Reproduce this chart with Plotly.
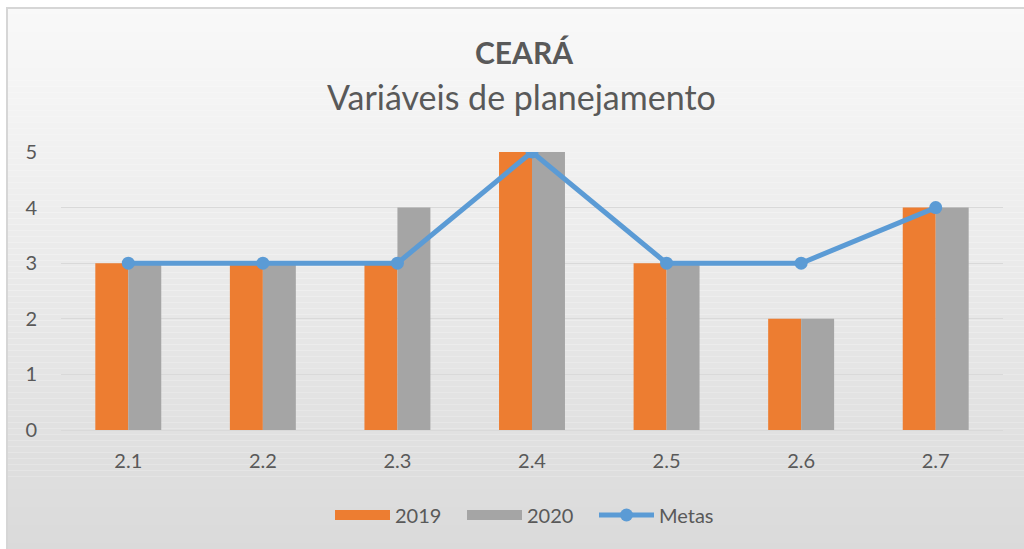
import plotly.graph_objects as go

categories = ["2.1", "2.2", "2.3", "2.4", "2.5", "2.6", "2.7"]
values_2019 = [3, 3, 3, 5, 3, 2, 4]
values_2020 = [3, 3, 4, 5, 3, 2, 4]
metas = [3, 3, 3, 5, 3, 3, 4]
y_ticks = [0, 1, 2, 3, 4, 5]

W, H = 1024, 549
L, R, T, B = 61, 21, 152, 119
pw, ph = W - L - R, H - T - B

def px_x(x):
    return (x - L) / pw

def px_y(y):
    return (H - B - y) / ph

FONT = "Lato"
TXT = "#595959"
ORANGE = "#ED7D31"
GRAY = "#A5A5A5"
BLUE = "#5B9BD5"

fig = go.Figure()
fig.add_trace(go.Bar(name="2019", x=categories, y=values_2019, showlegend=False,
                     marker=dict(color=ORANGE, line=dict(width=0))))
fig.add_trace(go.Bar(name="2020", x=categories, y=values_2020, showlegend=False,
                     marker=dict(color=GRAY, line=dict(width=0))))
fig.add_trace(go.Scatter(name="Metas", x=categories, y=metas, mode="lines+markers", showlegend=False,
                         line=dict(color=BLUE, width=5),
                         marker=dict(color=BLUE, size=13)))
# legend entries (wide rectangular swatches like the original)
fig.add_trace(go.Scatter(name="2019", x=[None], y=[None], mode="lines",
                         line=dict(color=ORANGE, width=14)))
fig.add_trace(go.Scatter(name="2020", x=[None], y=[None], mode="lines",
                         line=dict(color=GRAY, width=14)))
fig.add_trace(go.Scatter(name="Metas", x=[None], y=[None], mode="lines+markers",
                         line=dict(color=BLUE, width=5), marker=dict(color=BLUE, size=13)))

shapes = []
top_px, bot_px, left_px = 8, H, 7
n = 90
c_top, c_bot = 249, 218
for i in range(n):
    y0 = top_px + (bot_px - top_px) * i / n
    y1 = top_px + (bot_px - top_px) * (i + 1) / n
    c = round(c_top + (c_bot - c_top) * (i + 0.5) / n)
    col = f"rgb({c},{c},{c})"
    shapes.append(dict(type="rect", xref="paper", yref="paper", layer="below",
                       x0=px_x(left_px), x1=px_x(W), y0=px_y(y1), y1=px_y(y0),
                       fillcolor=col, line=dict(width=0)))
shapes.append(dict(type="rect", xref="paper", yref="paper", layer="below",
                   x0=px_x(left_px), x1=px_x(W + 5), y0=px_y(H + 5), y1=px_y(top_px),
                   fillcolor="rgba(0,0,0,0)", line=dict(width=2, color="#d6d6d6")))

annotations = [
    dict(text="<b>CEARÁ</b>", xref="paper", yref="paper", x=px_x(524), y=px_y(52),
         showarrow=False, font=dict(family=FONT, size=30, color=TXT), xanchor="center", yanchor="middle"),
    dict(text="Variáveis de planejamento", xref="paper", yref="paper", x=px_x(521), y=px_y(97),
         showarrow=False, font=dict(family=FONT, size=34, color=TXT), xanchor="center", yanchor="middle"),
]

fig.update_layout(
    width=W, height=H,
    margin=dict(l=L, r=R, t=T, b=B, pad=0),
    paper_bgcolor="white",
    plot_bgcolor="rgba(0,0,0,0)",
    barmode="group",
    bargap=0.51,
    bargroupgap=0,
    shapes=shapes,
    annotations=annotations,
    font=dict(family=FONT, size=18, color=TXT),
    showlegend=True,
    legend=dict(orientation="h", x=px_x(330), xanchor="left", y=px_y(515), yanchor="middle",
                font=dict(family=FONT, size=20, color=TXT), bgcolor="rgba(0,0,0,0)",
                traceorder="normal", itemwidth=55, tracegroupgap=0,
                entrywidth=62, entrywidthmode="pixels"),
    xaxis=dict(type="category", showgrid=False, showline=True, linecolor="#d9d9d9", linewidth=1,
               ticks="", tickfont=dict(family=FONT, size=20, color=TXT), ticklabelstandoff=13),
    yaxis=dict(range=[0, 5], tickvals=y_ticks, showgrid=True, gridcolor="#d9d9d9", gridwidth=1,
               zeroline=False, showline=False, ticks="", tickfont=dict(family=FONT, size=20, color=TXT),
               ticklabelstandoff=23),
)

fig.write_html("out.html")
